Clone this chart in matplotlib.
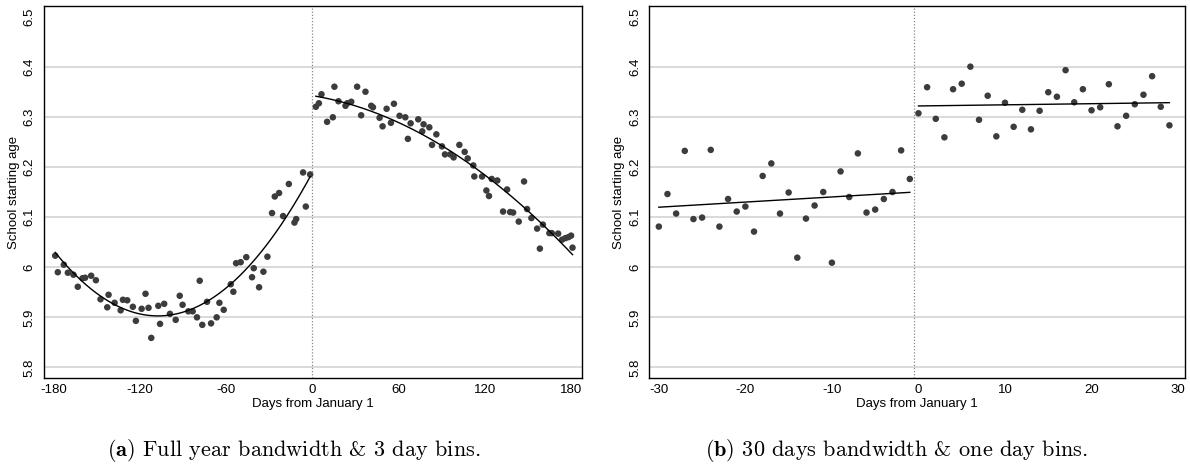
import numpy as np
import matplotlib
matplotlib.use("Agg")
import matplotlib.pyplot as plt

# ---------------- data ----------------
a_left_x = [-178.7, -176.9, -172.7, -169.9, -166.0, -163.0, -159.7, -157.9, -153.7, -150.4,
            -147.2, -142.5, -141.6, -137.4, -133.2, -131.6, -128.6, -124.7, -122.6, -118.6,
            -115.9, -113.8, -111.9, -107.0, -105.8, -102.9, -98.9, -94.9, -92.1, -90.1,
            -86.1, -83.1, -80.1, -78.2, -76.4, -73.1, -70.3, -66.4, -64.5, -61.5,
            -56.6, -54.8, -52.9, -49.7, -45.8, -41.8, -40.6, -36.9, -33.9, -31.1,
            -27.9, -26.0, -23.0, -20.2, -16.2, -12.3, -11.1, -6.3, -4.4, -1.4]
a_left_y = [6.023, 5.990, 6.005, 5.989, 5.985, 5.961, 5.978, 5.979, 5.983, 5.974,
            5.936, 5.920, 5.945, 5.929, 5.914, 5.935, 5.934, 5.921, 5.893, 5.917,
            5.947, 5.919, 5.859, 5.923, 5.887, 5.927, 5.907, 5.895, 5.943, 5.925,
            5.912, 5.912, 5.900, 5.973, 5.885, 5.931, 5.888, 5.900, 5.929, 5.915,
            5.966, 5.951, 6.008, 6.010, 6.020, 5.980, 5.998, 5.960, 5.991, 6.021,
            6.108, 6.141, 6.148, 6.102, 6.166, 6.089, 6.096, 6.189, 6.121, 6.185]

a_right_x = [2.6, 4.7, 6.5, 10.4, 14.4, 15.5, 18.3, 23.2, 24.4, 27.2,
             31.3, 34.1, 37.1, 41.1, 42.3, 46.9, 49.0, 51.8, 54.8, 56.9,
             60.8, 64.8, 66.6, 68.5, 73.8, 76.6, 77.5, 81.5, 83.4, 86.4,
             90.3, 92.4, 96.1, 98.4, 102.4, 106.1, 108.2, 112.1, 112.8, 118.2,
             121.2, 123.0, 124.9, 128.8, 132.8, 135.6, 137.7, 139.8, 143.7, 147.4,
             149.5, 152.5, 156.5, 158.4, 160.5, 165.0, 166.7, 171.1, 173.9, 176.2,
             178.3, 180.1, 181.1]
a_right_y = [6.320, 6.327, 6.345, 6.290, 6.299, 6.360, 6.331, 6.322, 6.327, 6.330,
             6.360, 6.303, 6.350, 6.322, 6.319, 6.298, 6.281, 6.316, 6.288, 6.326,
             6.302, 6.299, 6.256, 6.287, 6.295, 6.271, 6.285, 6.279, 6.244, 6.265,
             6.241, 6.225, 6.225, 6.219, 6.244, 6.230, 6.217, 6.203, 6.181, 6.181,
             6.153, 6.142, 6.176, 6.173, 6.111, 6.155, 6.110, 6.109, 6.091, 6.171,
             6.116, 6.098, 6.077, 6.037, 6.085, 6.068, 6.068, 6.067, 6.055, 6.058,
             6.060, 6.063, 6.039]

b_left_x = list(range(-30, 0))
b_left_y = [6.081, 6.146, 6.107, 6.232, 6.096, 6.099, 6.234, 6.081, 6.136, 6.111,
            6.121, 6.071, 6.182, 6.207, 6.107, 6.149, 6.019, 6.097, 6.123, 6.150,
            6.009, 6.191, 6.140, 6.227, 6.109, 6.115, 6.136, 6.150, 6.233, 6.176]

b_right_x = list(range(0, 30))
b_right_y = [6.307, 6.359, 6.296, 6.259, 6.355, 6.366, 6.400, 6.294, 6.342, 6.261,
             6.328, 6.280, 6.314, 6.275, 6.312, 6.349, 6.340, 6.393, 6.329, 6.355,
             6.313, 6.319, 6.365, 6.281, 6.302, 6.325, 6.344, 6.381, 6.320, 6.283]

y_ticks = [5.8, 5.9, 6.0, 6.1, 6.2, 6.3, 6.4, 6.5]
y_ticklabels = ["5.8", "5.9", "6", "6.1", "6.2", "6.3", "6.4", "6.5"]
a_xticks = [-180, -120, -60, 0, 60, 120, 180]
b_xticks = [-30, -20, -10, 0, 10, 20, 30]
ylabel = "School starting age"
xlabel = "Days from January 1"
caption_a = r"$\mathbf{(a)}$ Full year bandwidth & 3 day bins."
caption_b = r"$\mathbf{(b)}$ 30 days bandwidth & one day bins."

# ---------------- style ----------------
plt.rcParams['font.family'] = ['Liberation Sans', 'DejaVu Sans']
plt.rcParams['mathtext.fontset'] = 'cm'
DOT = '#3c3c3c'
GRID = '#cfcfcf'

fig = plt.figure(figsize=(11.9, 4.7), dpi=100)
W, H = 1190.0, 470.0


def make_ax(left_px, right_px, top_px=6.0, bottom_px=378.0):
    return fig.add_axes([left_px / W, 1 - bottom_px / H,
                         (right_px - left_px) / W, (bottom_px - top_px) / H])


def style(ax, xticks, xlim, vline):
    ax.set_ylim(5.779, 6.521)
    ax.set_xlim(*xlim)
    ax.set_yticks(y_ticks)
    ax.set_yticklabels(y_ticklabels, rotation=90, va='center')
    ax.set_xticks(xticks)
    ax.set_xticklabels([str(t) for t in xticks])
    ax.tick_params(axis='both', length=0, labelsize=9.5, colors='black')
    ax.tick_params(axis='y', pad=6)
    ax.tick_params(axis='x', pad=4)
    ax.yaxis.grid(True, color=GRID, lw=1.1)
    ax.xaxis.grid(False)
    ax.set_axisbelow(True)
    gl = ax.get_ygridlines()
    gl[-1].set_visible(False)
    for s in ax.spines.values():
        s.set_color('black')
        s.set_linewidth(1.0)
    ax.axvline(vline, color='#888888', lw=0.9, ls=(0, (1, 1.5)), zorder=1)
    ax.set_ylabel(ylabel, fontsize=9.5, labelpad=3)
    ax.set_xlabel(xlabel, fontsize=9.5, labelpad=2)


def fit_line(ax, x, y, deg):
    x = np.asarray(x, float)
    y = np.asarray(y, float)
    c = np.polyfit(x, y, deg)
    xs = np.linspace(x.min(), x.max(), 200)
    ax.plot(xs, np.polyval(c, xs), color='black', lw=1.0, zorder=3)


# panel a
ax1 = make_ax(44, 582)
style(ax1, a_xticks, (-186.5, 187.7), 0)
ax1.scatter(a_left_x, a_left_y, s=22, color=DOT, edgecolors='none', zorder=2)
ax1.scatter(a_right_x, a_right_y, s=22, color=DOT, edgecolors='none', zorder=2)
fit_line(ax1, a_left_x, a_left_y, 2)
fit_line(ax1, a_right_x, a_right_y, 2)

# panel b
ax2 = make_ax(649.3, 1185)
style(ax2, b_xticks, (-31.1, 30.8), -0.5)
ax2.scatter(b_left_x, b_left_y, s=22, color=DOT, edgecolors='none', zorder=2)
ax2.scatter(b_right_x, b_right_y, s=22, color=DOT, edgecolors='none', zorder=2)
fit_line(ax2, b_left_x, b_left_y, 1)
fit_line(ax2, b_right_x, b_right_y, 1)

fig.text(294 / W, 1 - 450 / H, caption_a, ha='center', va='center',
         fontsize=16, family='cmr10')
fig.text(896 / W, 1 - 450 / H, caption_b, ha='center', va='center',
         fontsize=16, family='cmr10')

fig.savefig('out.png', dpi=100)
